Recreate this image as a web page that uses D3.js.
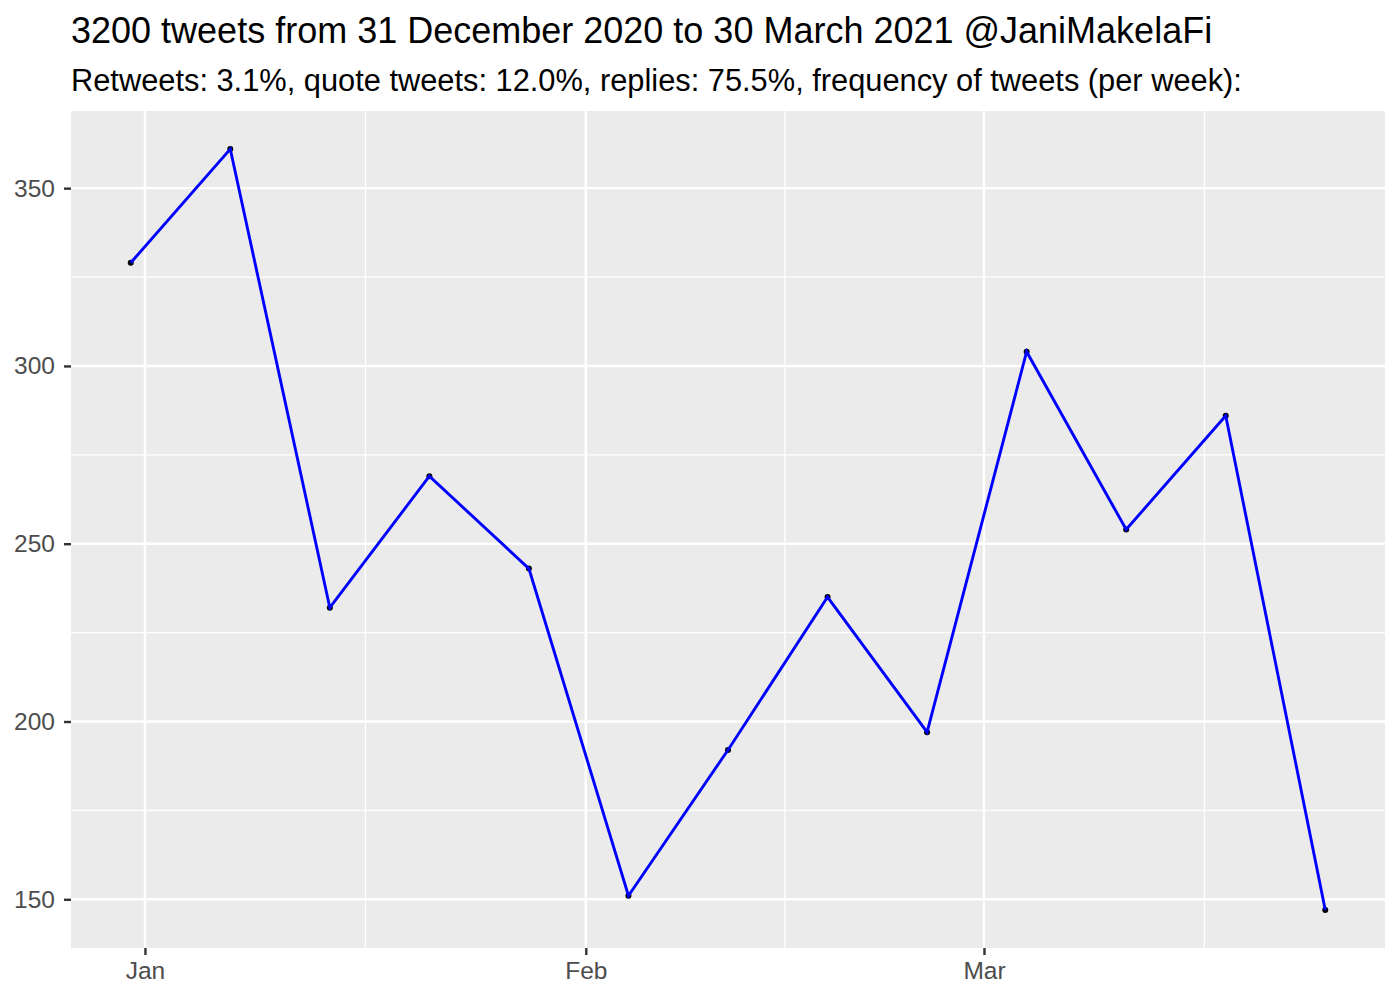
<!DOCTYPE html>
<html><head><meta charset="utf-8">
<script src="https://cdn.jsdelivr.net/npm/d3@7"></script>
<style>body{margin:0;background:#fff}svg{display:block;font-family:"Liberation Sans",Arial,sans-serif}</style>
</head><body><svg id="c" width="1400" height="1000"></svg>
<script>
const weeks = ["2020-12-31","2021-01-07","2021-01-14","2021-01-21","2021-01-28","2021-02-04","2021-02-11","2021-02-18","2021-02-25","2021-03-04","2021-03-11","2021-03-18","2021-03-25"];
const tweetsPerWeek = [329,361,232,269,243,151,192,235,197,304,254,286,147];
const yTicks = [150,200,250,300,350];
const yMinor = [175,225,275,325];
const xTickDates = ["2021-01-01","2021-02-01","2021-03-01"];
const xTickLabels = ["Jan","Feb","Mar"];
const xMinorDates = ["2021-01-16 12:00","2021-02-15 00:00","2021-03-16 12:00"];
const titleText = "3200 tweets from 31 December 2020 to 30 March 2021 @JaniMakelaFi";
const subtitleText = "Retweets: 3.1%, quote tweets: 12.0%, replies: 75.5%, frequency of tweets (per week):";

const parse = d3.timeParse("%Y-%m-%d");
const parse2 = d3.timeParse("%Y-%m-%d %H:%M");
const data = weeks.map((w,i)=>({d:parse(w), v:tweetsPerWeek[i]}));

const L=71, R=1385, T=111, B=948;
const svg = d3.select("#c");
const dExt = d3.extent(data, d=>d.d);
const span = dExt[1]-dExt[0];
const x = d3.scaleTime().domain([new Date(+dExt[0]-span*0.05), new Date(+dExt[1]+span*0.05)]).range([L,R]);
const vExt = d3.extent(tweetsPerWeek);
const vs = vExt[1]-vExt[0];
const y = d3.scaleLinear().domain([vExt[0]-vs*0.05, vExt[1]+vs*0.05]).range([B,T]);

svg.append("rect").attr("x",L).attr("y",T).attr("width",R-L).attr("height",B-T).attr("fill","#EBEBEB");
const g = svg.append("g");
yMinor.forEach(v=>g.append("line").attr("x1",L).attr("x2",R).attr("y1",y(v)).attr("y2",y(v)).attr("stroke","#fff").attr("stroke-width",1.2));
xMinorDates.forEach(s=>{const xx=x(parse2(s)); if(xx>L&&xx<R) g.append("line").attr("x1",xx).attr("x2",xx).attr("y1",T).attr("y2",B).attr("stroke","#fff").attr("stroke-width",1.2);});
yTicks.forEach(v=>g.append("line").attr("x1",L).attr("x2",R).attr("y1",y(v)).attr("y2",y(v)).attr("stroke","#fff").attr("stroke-width",2.4));
xTickDates.forEach(s=>{const xx=x(parse(s)); g.append("line").attr("x1",xx).attr("x2",xx).attr("y1",T).attr("y2",B).attr("stroke","#fff").attr("stroke-width",2.4);});

const fontFam = "Liberation Sans, Arial, sans-serif";
const yAxis = d3.axisLeft(y).tickValues(yTicks).tickSize(7).tickPadding(9);
const ya = svg.append("g").attr("transform",`translate(${L},0)`).call(yAxis);
ya.select(".domain").remove();
ya.selectAll(".tick line").attr("stroke","#333").attr("stroke-width",2.4);
ya.selectAll(".tick text").attr("fill","#4D4D4D").style("font-size","24.5px").style("font-family",fontFam);

const xAxis = d3.axisBottom(x).tickValues(xTickDates.map(parse)).tickFormat((d,i)=>xTickLabels[i]).tickSize(7).tickPadding(7);
const xa = svg.append("g").attr("transform",`translate(0,${B})`).call(xAxis);
xa.select(".domain").remove();
xa.selectAll(".tick line").attr("stroke","#333").attr("stroke-width",2.4);
xa.selectAll(".tick text").attr("fill","#4D4D4D").style("font-size","24.5px").style("font-family",fontFam);

svg.append("g").selectAll("circle").data(data).join("circle")
  .attr("cx",d=>x(d.d)).attr("cy",d=>y(d.v)).attr("r",3).attr("fill","#000");
svg.append("path").datum(data).attr("d",d3.line().x(d=>x(d.d)).y(d=>y(d.v)))
  .attr("fill","none").attr("stroke","#0000FF").attr("stroke-width",2.9);

svg.append("text").attr("x",L).attr("y",43).text(titleText).attr("font-size","36px").attr("fill","#000");
svg.append("text").attr("x",L).attr("y",91).text(subtitleText).attr("font-size","30.8px").attr("fill","#000");
</script></body></html>
